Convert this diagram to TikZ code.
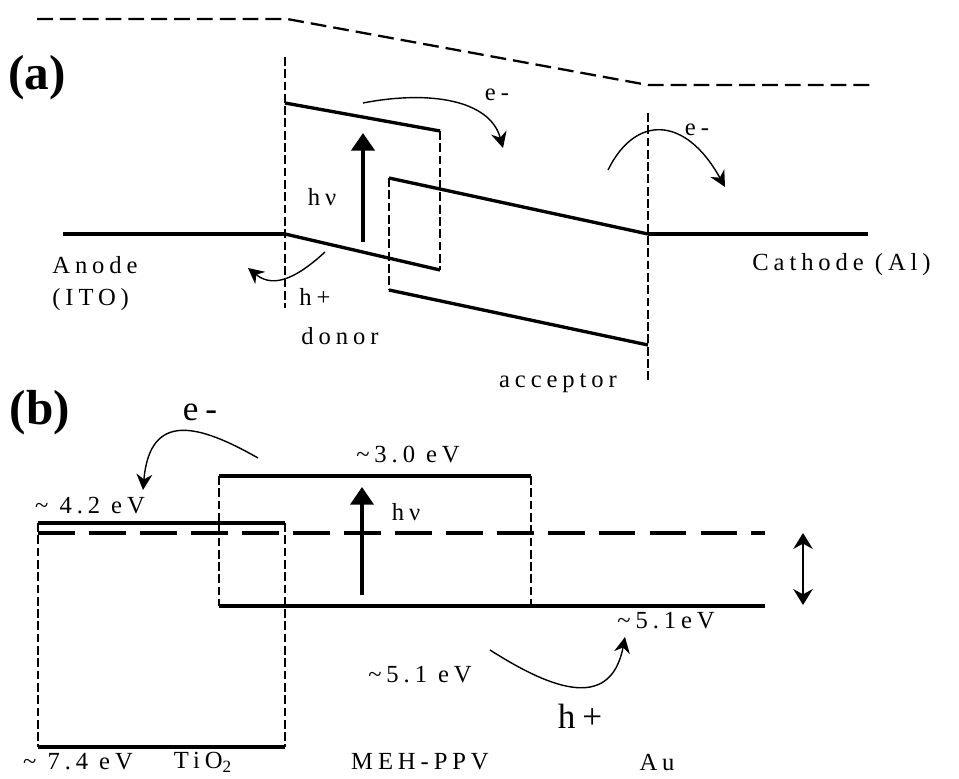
\documentclass[tikz,border=0pt]{standalone}
\usepackage{fontspec}
\setmainfont{Liberation Serif}
\newfontfamily\spacedfont[LetterSpace=20]{Liberation Serif}
\usetikzlibrary{arrows.meta}

\begin{document}
\begin{tikzpicture}[
    every node/.style={font=\spacedfont\fontsize{14}{16}\selectfont, inner sep=0pt},
    >=Stealth,
    bandline/.style={line width=1.9pt},
    boundary/.style={line width=0.9pt, dash pattern=on 5pt off 2pt},
    vacuum/.style={line width=1.3pt, dash pattern=on 9pt off 4pt},
    fermi/.style={line width=2.5pt, dash pattern=on 21pt off 8pt},
    photon/.style={line width=2.6pt, -{Triangle[width=13pt,length=10pt]}},
    hop/.style={line width=0.8pt, -{Stealth[width=9pt,length=9pt]}},
    biglabel/.style={font=\bfseries\fontsize{28}{30}\selectfont},
    carrier/.style={font=\spacedfont\fontsize{20}{22}\selectfont}
]
\useasboundingbox (0,0) rectangle (19.18,15.56);

% ===== PANEL (a): donor / acceptor between electrodes =====
\node[biglabel] (labA) at (0.74, 14.0) {(a)};

% --- Vacuum level ---
\draw[vacuum] (0.74,15.18) -- (5.74,15.18) -- (12.96,13.86) -- (17.40,13.86);

% --- Electrodes ---
\draw[bandline] (1.26,10.88) -- (5.70,10.88);
\draw[bandline] (12.96,10.88) -- (17.36,10.88);
\node[anchor=west] (anode) at (1.04,10.26) {Anode};
\node[anchor=west] (ito) at (1.04,9.56) {(ITO)};
\node[anchor=west] (cathode) at (15.04,10.26) {Cathode (Al)};

% --- Interfaces ---
\draw[boundary] (5.70,14.42) -- (5.70,9.40);
\draw[boundary] (12.96,13.30) -- (12.96,7.90);

% --- Donor ---
\draw[bandline] (5.70,13.50) -- (8.80,12.94);
\draw[boundary] (8.80,12.94) -- (8.80,10.16);
\draw[bandline] (5.70,10.88) -- (8.80,10.16);
\node (donor) at (6.80,8.84) {donor};

% --- Acceptor ---
\draw[boundary] (7.78,12.00) -- (7.78,9.76);
\draw[bandline] (7.78,12.00) -- (12.96,10.88);
\draw[bandline] (7.78,9.76) -- (12.96,8.66);
\node (acceptor) at (11.16,7.90) {acceptor};

% --- Absorption ---
\draw[photon] (7.26,10.72) -- (7.26,12.90);
\node (hvA) at (6.44,11.62) {hν};

% --- Charge transfer ---
\draw[hop] (7.26,13.50) .. controls (8.60,13.76) and (9.80,13.56) .. (10.06,12.60);
\node (eA1) at (9.94,13.66) {e-};
\draw[hop] (12.16,12.16) .. controls (12.70,13.26) and (13.70,13.26) .. (14.50,11.82);
\node (eA2) at (13.94,12.96) {e-};
\draw[hop] (6.50,10.52) .. controls (6.00,10.06) and (5.50,9.76) .. (4.96,10.20);
\node (hA) at (6.30,9.62) {h+};


% ===== PANEL (b): TiO2 / MEH-PPV / Au =====
\node[biglabel] (labB) at (0.80,7.30) {(b)};

% --- TiO2 ---
\draw[bandline] (0.76,5.10) -- (5.70,5.10);
\draw[bandline] (0.76,0.62) -- (5.70,0.62);
\draw[boundary] (0.76,5.10) -- (0.76,0.62);
\draw[boundary] (5.70,5.10) -- (5.70,0.62);
\node (v42) at (1.80,5.44) {\textasciitilde{} 4.2 eV};
\node (v74) at (1.56,0.32) {\textasciitilde{} 7.4 eV};
\node (tio) at (4.06,0.32) {TiO\textsubscript{2}};

% --- MEH-PPV ---
\draw[bandline] (4.38,6.04) -- (10.62,6.04);
\draw[boundary] (4.38,6.04) -- (4.38,3.44);
\draw[boundary] (10.62,6.04) -- (10.62,3.44);
\draw[bandline] (4.38,3.44) -- (15.30,3.44);
\node (v30) at (8.16,6.46) {\textasciitilde3.0 eV};
\node (v51a) at (8.40,2.06) {\textasciitilde5.1 eV};
\node (meh) at (8.40,0.32) {MEH-PPV};

% --- Au Fermi level ---
\draw[fermi] (0.76,4.90) -- (15.30,4.90);
\draw[line width=1.1pt, {Stealth[width=11pt,length=9pt]}-{Stealth[width=11pt,length=9pt]}] (16.06,3.46) -- (16.06,4.90);
\node (v51b) at (13.32,3.14) {\textasciitilde5.1eV};
\node (au) at (13.14,0.32) {Au};

% --- Absorption ---
\draw[photon, line width=2.2pt] (7.24,3.66) -- (7.24,5.82);
\node (hvB) at (8.12,5.32) {hν};

% --- Charge transfer ---
\draw[hop] (5.16,6.40) .. controls (4.00,7.06) and (3.00,7.36) .. (2.86,5.76);
\node[carrier] (eB) at (4.00,7.32) {e-};
\draw[hop] (9.80,2.56) .. controls (10.90,1.86) and (12.20,1.26) .. (12.50,2.82);
\node[carrier] (hB) at (11.60,1.24) {h+};

\end{tikzpicture}
\end{document}
